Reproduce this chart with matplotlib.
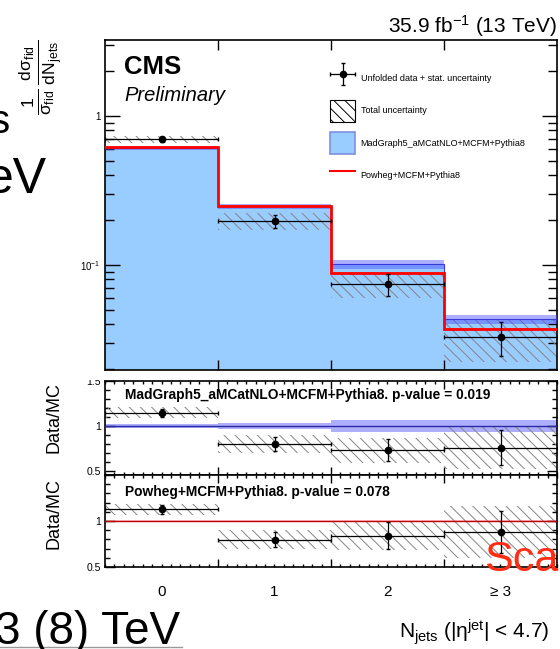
"""Normalised jet multiplicity with Data/MC ratio panels (CMS style)."""

import matplotlib

matplotlib.use("Agg")
import matplotlib.pyplot as plt
import numpy as np
from matplotlib.container import ErrorbarContainer
from matplotlib.legend_handler import HandlerErrorbar
from matplotlib.lines import Line2D
from matplotlib.patches import Patch, Rectangle
from matplotlib.ticker import FixedLocator, FuncFormatter, LogLocator

plt.rcParams["font.family"] = ["Liberation Sans", "DejaVu Sans"]
plt.rcParams["mathtext.fontset"] = "custom"
plt.rcParams["mathtext.rm"] = "Liberation Sans"
plt.rcParams["mathtext.it"] = "Liberation Sans:italic"
plt.rcParams["mathtext.bf"] = "Liberation Sans:bold"
plt.rcParams["mathtext.default"] = "regular"
plt.rcParams["hatch.linewidth"] = 0.7

# ---- values -------------------------------------------------------------
njet_labels = ["0", "1", "2", "≥ 3"]
data_xsec = [0.697, 0.198, 0.074, 0.0329]
data_stat_rel = [0.04, 0.10, 0.17, 0.26]
data_total_rel = [0.055, 0.13, 0.19, 0.32]
madgraph_xsec = [0.607, 0.2475, 0.101, 0.0433]
madgraph_unc_rel = [0.02, 0.035, 0.065, 0.07]
powheg_xsec = [0.619, 0.248, 0.0879, 0.0374]
powheg_unc_rel = [0.015, 0.015, 0.015, 0.015]
pvalue_madgraph = 0.019
pvalue_powheg = 0.078

W, H = 560, 649
BLUE_FILL = "#99ccff"
BLUE_BAND = "#4d4dff"
HATCH_GREY = "#858585"
HATCH = "\\\\\\"


def fx(x):
    return x / W


def fy(y):
    return 1 - y / H


def box(x0, y0, x1, y1):
    return [fx(x0), fy(y1), fx(x1) - fx(x0), fy(y0) - fy(y1)]


data = np.array(data_xsec)
stat = data * np.array(data_stat_rel)
total = np.array(data_total_rel)
mg = np.array(madgraph_xsec)
mg_u = np.array(madgraph_unc_rel)
pw = np.array(powheg_xsec)
pw_u = np.array(powheg_unc_rel)

centers = np.arange(len(data))
edges = np.arange(len(data) + 1) - 0.5

fig = plt.figure(figsize=(W / 100, H / 100), dpi=100)
ax = fig.add_axes(box(105, 40, 557, 370))
r1 = fig.add_axes(box(105, 381, 557, 475))
r2 = fig.add_axes(box(105, 475, 557, 567))

# ---- main panel ---------------------------------------------------------
ax.set_yscale("log")
ax.stairs(mg, edges, baseline=1e-3, fill=True, color=BLUE_FILL, zorder=1)
ax.stairs(data * (1 + total), edges, baseline=data * (1 - total), fill=True,
          facecolor="none", edgecolor=HATCH_GREY, hatch=HATCH, lw=0, zorder=2)
ax.stairs(mg * (1 + mg_u), edges, baseline=mg * (1 - mg_u), fill=True,
          color=BLUE_BAND, alpha=0.45, lw=0, zorder=3)
ax.stairs(mg, edges, baseline=None, color="#3b3bd9", lw=0.8, zorder=3)
ax.stairs(pw * (1 + pw_u), edges, baseline=pw * (1 - pw_u), fill=True,
          color="#ff7070", alpha=0.5, lw=0, zorder=4)
ax.stairs(pw, edges, baseline=None, color="red", lw=2, zorder=5)
eb = ax.errorbar(centers, data, yerr=stat, xerr=0.5, fmt="o", color="black",
                 ms=4.5, lw=0.9, capsize=1.2, zorder=6)

ax.set_xlim(edges[0], edges[-1])
ax.set_ylim(0.0197, 3.24)
ax.set_xticks(edges[1:-1])
ax.set_xticklabels([])
ax.yaxis.set_major_locator(LogLocator(base=10))
ax.yaxis.set_minor_locator(LogLocator(base=10, subs=np.arange(2, 10)))
ax.yaxis.set_minor_formatter(FuncFormatter(lambda v, p: ""))
ax.yaxis.set_major_formatter(
    FuncFormatter(lambda v, p: "1" if abs(v - 1) < 1e-9 else r"$10^{%d}$" % round(np.log10(v))))
ax.tick_params(axis="both", which="both", direction="in", top=True, right=True,
               width=1, labelsize=7, pad=3)
ax.tick_params(axis="x", which="major", length=7)
ax.tick_params(axis="y", which="major", length=11)
ax.tick_params(axis="y", which="minor", length=6.5)
for s in ax.spines.values():
    s.set_linewidth(1.2)

handles = [
    eb,
    Patch(facecolor="none", edgecolor="black", hatch=HATCH, lw=0.8),
    Patch(facecolor=BLUE_FILL, edgecolor="#7f8fe0", lw=1.2),
    Line2D([], [], color="red", lw=1.5),
]
labels = [
    "Unfolded data + stat. uncertainty",
    "Total uncertainty",
    "MadGraph5_aMCatNLO+MCFM+Pythia8",
    "Powheg+MCFM+Pythia8",
]
ax.legend(handles, labels, loc="upper left", bbox_to_anchor=(fx(330), fy(67)),
          bbox_transform=fig.transFigure, frameon=False, fontsize=6.5,
          borderpad=0, borderaxespad=0, handlelength=2.8, handleheight=3.38,
          labelspacing=1.16, handletextpad=0.6,
          handler_map={ErrorbarContainer: HandlerErrorbar(xerr_size=1.4, yerr_size=1.2)})

fig.text(fx(124), fy(74), "CMS", fontsize=18.5, fontweight="bold")
fig.text(fx(124), fy(101), "Preliminary", fontsize=14.5, style="italic")
fig.text(fx(557), fy(33), r"35.9 fb$^{-1}$ (13 TeV)", fontsize=15, ha="right")
fig.text(fx(40), fy(77), r"$\frac{1}{\sigma_{fid}}\,\frac{d\sigma_{fid}}{dN_{jets}}$",
         fontsize=18, rotation=90, ha="center", va="center")


# ---- ratio panels -------------------------------------------------------
def ratio_panel(rax, model, model_u, band_color, line_color, text, ylo, text_y):
    ratio = data / model
    rax.stairs(1 + model_u, edges, baseline=1 - model_u, fill=True,
               color=band_color, alpha=0.45, lw=0, zorder=1)
    rax.stairs(ratio * (1 + total), edges, baseline=ratio * (1 - total), fill=True,
               facecolor="none", edgecolor=HATCH_GREY, hatch=HATCH, lw=0, zorder=2)
    rax.axhline(1, color=line_color, lw=1, zorder=3)
    rax.errorbar(centers, ratio, yerr=ratio * np.array(data_stat_rel), xerr=0.5,
                 fmt="o", color="black", ms=4.5, lw=0.9, capsize=1.2, zorder=4)
    rax.set_xlim(edges[0], edges[-1])
    rax.set_ylim(ylo, 1.5)
    rax.set_xticks(edges[1:-1])
    rax.set_xticklabels([])
    rax.xaxis.set_minor_locator(FixedLocator(np.arange(edges[0], edges[-1] + 1e-9, 1 / 12)))
    rax.set_yticks([0.5, 1, 1.5])
    rax.yaxis.set_minor_locator(FixedLocator(np.arange(0.5, 1.51, 0.1)))
    rax.tick_params(axis="both", which="both", direction="in", top=True, right=True,
                    width=1, labelsize=7.5, pad=3)
    rax.tick_params(axis="x", which="major", length=6)
    rax.tick_params(axis="x", which="minor", length=2.5)
    rax.tick_params(axis="y", which="major", length=7)
    rax.tick_params(axis="y", which="minor", length=3.5)
    for s in rax.spines.values():
        s.set_linewidth(1.2)
    rax.text(0.045, text_y, text, transform=rax.transAxes, fontsize=9.9,
             fontweight="bold", va="center", zorder=5)


ratio_panel(r1, mg, mg_u, BLUE_BAND, "#2a2aa0",
            f"MadGraph5_aMCatNLO+MCFM+Pythia8. p-value = {pvalue_madgraph}", 0.455, 0.85)
ratio_panel(r2, pw, pw_u, "#ff8080", "#c00000",
            f"Powheg+MCFM+Pythia8. p-value = {pvalue_powheg}", 0.5, 0.82)
r1.set_yticklabels(["0.5", "1", "1.5"])
r2.set_yticklabels(["0.5", "1", ""])

sec = r2.secondary_xaxis("bottom")
sec.set_xticks(centers, njet_labels)
sec.tick_params(length=0, labelsize=11, pad=13)
sec.spines["bottom"].set_visible(False)

fig.text(fx(54), fy(418), "Data/MC", fontsize=13, rotation=90, ha="center", va="center")
fig.text(fx(54), fy(514), "Data/MC", fontsize=13, rotation=90, ha="center", va="center")
fig.text(fx(399), fy(638), r"$N_{jets}$ (|$\eta^{jet}$| < 4.7)", fontsize=15, va="baseline")

# the gap between the main panel and the first ratio panel hides part of the 1.5 label
fig.patches.append(Rectangle((fx(60), fy(380)), fx(44), fy(371.5) - fy(380),
                             transform=fig.transFigure, facecolor="white",
                             edgecolor="none", zorder=10))

# slide text around the figure
fig.text(fx(-10), fy(133), "s", fontsize=29, zorder=11)
fig.text(fx(-14), fy(193), "eV", fontsize=36, zorder=11)
fig.text(fx(-5), fy(644), "3 (8) TeV", fontsize=33, zorder=11)
fig.lines.append(Line2D([0, fx(182)], [fy(647), fy(647)], transform=fig.transFigure,
                        color="#9a9a9a", lw=1, zorder=11))
fig.text(fx(484), fy(571), "Scale", fontsize=31, color="#ff2d14", zorder=11)

fig.savefig("out.png", dpi=100)
